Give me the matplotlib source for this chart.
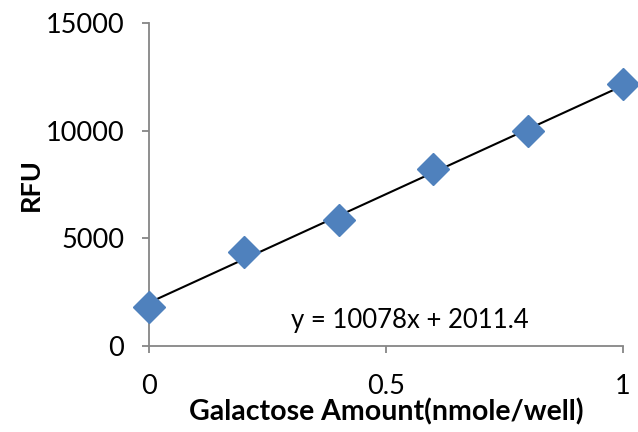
import matplotlib
matplotlib.use("Agg")
import matplotlib.pyplot as plt
import numpy as np

amount = [0.0, 0.2, 0.4, 0.6, 0.8, 1.0]
rfu = [1830, 4380, 5840, 8200, 10000, 12150]
slope = 10078
intercept = 2011.4
xticks = [0, 0.5, 1]
xticklabels = ["0", "0.5", "1"]
yticks = [0, 5000, 10000, 15000]
yticklabels = ["0", "5000", "10000", "15000"]

plt.rcParams['font.family'] = ['Lato', 'DejaVu Sans']
fig = plt.figure(figsize=(6.38, 4.32), dpi=100)
ax = fig.add_axes([0.2335, 0.199, 0.743, 0.748])

xl = np.array([0.0, 1.0])
ax.plot(xl, slope * xl + intercept, color='black', lw=1.5, zorder=2)
ax.plot(amount, rfu, linestyle='none', marker='D', markersize=16,
        color='#4F81BD', markeredgecolor='#4F81BD', zorder=3, clip_on=False)

ax.set_xlim(0, 1)
ax.set_ylim(0, 15000)
ax.set_xticks(xticks)
ax.set_xticklabels(xticklabels)
ax.set_yticks(yticks)
ax.set_yticklabels(yticklabels)
for s in ['top', 'right']:
    ax.spines[s].set_visible(False)
for s in ['left', 'bottom']:
    ax.spines[s].set_color('#868686')
    ax.spines[s].set_linewidth(1.3)
ax.tick_params(axis='both', direction='out', length=5, width=1.3, color='#868686',
               labelsize=19.5, labelcolor='black')
ax.tick_params(axis='y', pad=13)
ax.tick_params(axis='x', pad=15)

ax.text(0.30, 1200, "y = 10078x + 2011.4", fontsize=18.5, ha='left', va='center')
ax.set_xlabel("Galactose Amount(nmole/well)", fontsize=20.5, fontweight='bold', labelpad=0)
ax.set_ylabel("RFU", fontsize=19.5, fontweight='bold', labelpad=2)

fig.savefig("out.png", dpi=100)
